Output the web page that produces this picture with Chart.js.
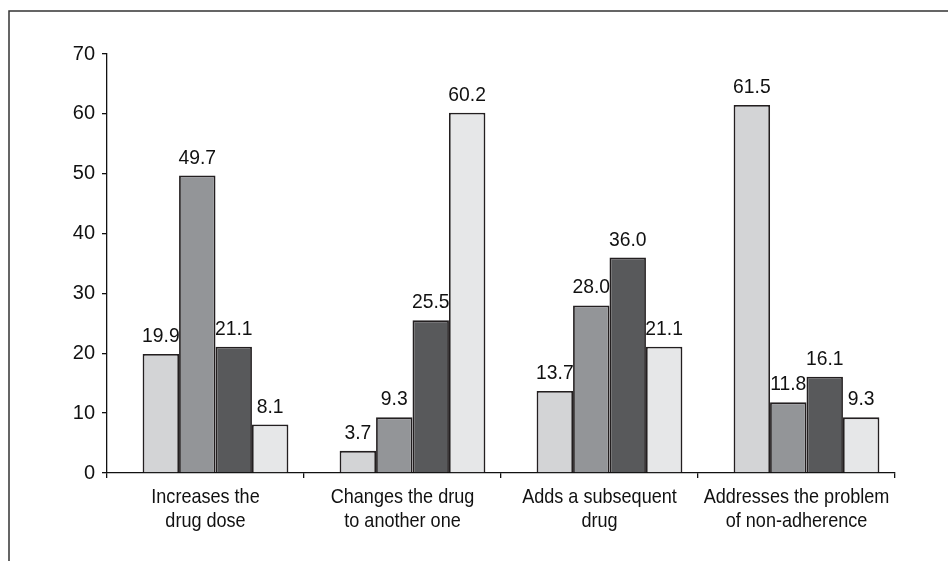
<!DOCTYPE html>
<html>
<head>
<meta charset="utf-8">
<script src="https://cdn.jsdelivr.net/npm/chart.js@4.4.1/dist/chart.umd.min.js"></script>
<style>
  html, body { margin: 0; padding: 0; background: #fff; }
  #wrap { width: 948px; height: 561px; position: relative; }
</style>
</head>
<body>
<div id="wrap"><canvas id="c" width="948" height="561"></canvas></div>
<script>
// Categories (x axis), two lines each
const categories = [
  ["Increases the", "drug dose"],
  ["Changes the drug", "to another one"],
  ["Adds a subsequent", "drug"],
  ["Addresses the problem", "of non-adherence"]
];

// Series values (%)
const series1 = [19.9, 3.7, 13.7, 61.5];
const series2 = [49.7, 9.3, 28.0, 11.8];
const series3 = [21.1, 25.5, 36.0, 16.1];
const series4 = [8.1, 60.2, 21.1, 9.3];

// Y axis ticks
const yTicks = [0, 10, 20, 30, 40, 50, 60, 70];

const FONT = "'Liberation Sans', Arial, Helvetica, sans-serif";
const INK = '#111';
const fills = ['#d3d4d6', '#939598', '#58595b', '#e6e7e8'];
const edge = '#231f20';

// Draw text narrowed horizontally around its anchor
function narrowText(ctx, text, x, y, sx) {
  ctx.save();
  ctx.translate(x, y);
  ctx.scale(sx, 1);
  ctx.fillText(text, 0, 0);
  ctx.restore();
}

// Outer frame (left and top rules)
const framePlugin = {
  id: 'frame',
  beforeDraw(chart) {
    const ctx = chart.ctx;
    ctx.save();
    ctx.strokeStyle = '#333';
    ctx.lineWidth = 1.5;
    ctx.beginPath();
    ctx.moveTo(9, chart.height);
    ctx.lineTo(9, 11);
    ctx.lineTo(chart.width, 11);
    ctx.stroke();
    ctx.restore();
  }
};

// Bar groups sit slightly right of category centres; values are printed above bars
const SHIFT = 10;
const barPlugin = {
  id: 'bars',
  beforeDatasetsDraw(chart) { chart.ctx.save(); chart.ctx.translate(SHIFT, 0); },
  afterDatasetsDraw(chart) {
    const ctx = chart.ctx;
    ctx.fillStyle = INK;
    ctx.font = '21px ' + FONT;
    ctx.textAlign = 'center';
    ctx.textBaseline = 'alphabetic';
    chart.data.datasets.forEach((ds, di) => {
      const meta = chart.getDatasetMeta(di);
      meta.data.forEach((bar, i) => {
        narrowText(ctx, ds.data[i].toFixed(1), bar.x, bar.y - 12, 0.92);
      });
    });
    ctx.restore();
  }
};

// Condensed two-line category labels under the x axis
const xLabelPlugin = {
  id: 'xlabels',
  afterDraw(chart) {
    const ctx = chart.ctx;
    const xs = chart.scales.x;
    ctx.save();
    ctx.fillStyle = INK;
    ctx.font = '21px ' + FONT;
    ctx.textAlign = 'center';
    ctx.textBaseline = 'alphabetic';
    categories.forEach((lines, i) => {
      const cx = xs.getPixelForValue(i);
      lines.forEach((line, k) => {
        narrowText(ctx, line, cx, xs.top + 30 + k * 24, 0.86);
      });
    });
    ctx.restore();
  }
};

new Chart(document.getElementById('c'), {
  type: 'bar',
  data: {
    labels: categories,
    datasets: [series1, series2, series3, series4].map((d, k) => ({
      data: d,
      backgroundColor: fills[k],
      borderColor: edge,
      borderWidth: 1.8,
      borderSkipped: 'bottom',
      categoryPercentage: 0.74,
      barPercentage: 1.0
    }))
  },
  options: {
    responsive: false,
    animation: false,
    events: [],
    layout: { padding: { left: 0, right: 53, top: 54, bottom: 0 } },
    plugins: { legend: { display: false }, tooltip: { enabled: false } },
    scales: {
      x: {
        offset: true,
        grid: { display: true, offset: true, drawOnChartArea: false, drawTicks: true, tickLength: 5, color: INK, lineWidth: 1.3 },
        border: { display: true, color: INK, width: 1.3 },
        ticks: { display: false },
        afterFit(scale) { scale.height = 88; }
      },
      y: {
        min: 0, max: 70,
        afterBuildTicks(scale) { scale.ticks = yTicks.map(v => ({ value: v })); },
        grid: { display: true, drawOnChartArea: false, drawTicks: true, tickLength: 5, color: INK, lineWidth: 1.3 },
        border: { display: true, color: INK, width: 1.3 },
        ticks: { color: INK, font: { family: FONT, size: 20 }, padding: 7 },
        afterFit(scale) { scale.width = 107; }
      }
    }
  },
  plugins: [framePlugin, barPlugin, xLabelPlugin]
});
</script>
</body>
</html>
